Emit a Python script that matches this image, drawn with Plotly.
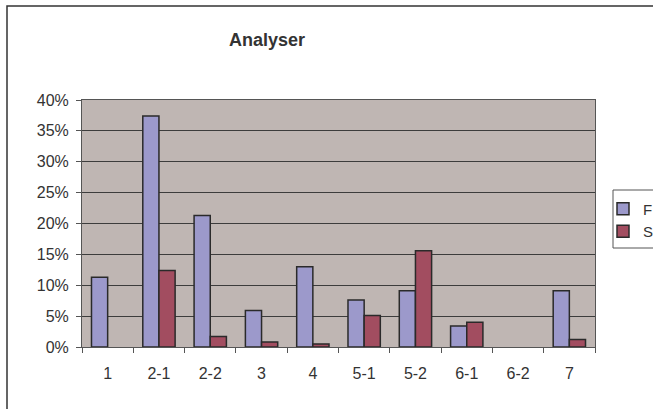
import plotly.graph_objects as go

categories = ["1", "2-1", "2-2", "3", "4", "5-1", "5-2", "6-1", "6-2", "7"]
f_values = [11.3, 37.4, 21.3, 5.9, 13.0, 7.6, 9.1, 3.4, None, 9.1]
s_values = [None, 12.4, 1.7, 0.8, 0.5, 5.1, 15.6, 4.0, None, 1.2]
y_ticks = [0, 5, 10, 15, 20, 25, 30, 35, 40]
y_labels = [f"{v}%" for v in y_ticks]

FONT = "Liberation Sans, Arial, sans-serif"

L, R, T, B = 82, 58, 100, 62
W, H = 653, 409
PW, PH = W - L - R, H - T - B

fig = go.Figure()
fig.add_trace(go.Bar(x=categories, y=f_values, name="F",
                     marker=dict(color="#9c99cb", line=dict(color="#2a2a2a", width=1.5))))
fig.add_trace(go.Bar(x=categories, y=s_values, name="S",
                     marker=dict(color="#a24d60", line=dict(color="#2a2a2a", width=1.5))))

fig.update_layout(
    width=W, height=H,
    margin=dict(l=L, r=R, t=T, b=B, autoexpand=False),
    paper_bgcolor="white",
    plot_bgcolor="#bfb6b3",
    barmode="group", bargap=0.37, bargroupgap=0,
    font=dict(family=FONT, size=16, color="#333333"),
    title=dict(text="<b>Analyser</b>", xref="container", x=267 / W, xanchor="center",
               yref="container", y=1 - 40 / H, yanchor="middle",
               font=dict(family=FONT, size=18, color="#333333")),
    showlegend=True,
    legend=dict(x=(603 - L) / PW, xanchor="left", y=(H - B - 220) / PH, yanchor="middle",
                font=dict(size=15, color="#333333"),
                borderwidth=0, bgcolor="rgba(0,0,0,0)",
                itemwidth=30, tracegroupgap=2),
    xaxis=dict(type="category", tickson="boundaries", ticks="outside", ticklen=5,
               tickcolor="#555555", showline=True, linecolor="#555555", linewidth=1,
               mirror=True, showgrid=False, fixedrange=True, ticklabelstandoff=12),
    yaxis=dict(range=[0, 40], tickvals=y_ticks, ticktext=y_labels, ticks="outside",
               ticklen=5, tickcolor="#555555", showline=True, linecolor="#555555",
               linewidth=1, mirror=True, showgrid=True, gridcolor="#3c3c3c", gridwidth=1,
               zeroline=False, fixedrange=True, ticklabelstandoff=4),
)

# outer chart frame
fig.add_shape(type="rect", xref="paper", yref="paper",
              x0=(7 - L) / PW, x1=(670 - L) / PW,
              y0=(H - B - 420) / PH, y1=(H - B - 6) / PH,
              line=dict(color="#333333", width=1.5), fillcolor="rgba(0,0,0,0)", layer="below")
# legend box
fig.add_shape(type="rect", xref="paper", yref="paper",
              x0=(613 - L) / PW, x1=(670 - L) / PW,
              y0=(H - B - 248) / PH, y1=(H - B - 190) / PH,
              line=dict(color="#555555", width=1), fillcolor="white", layer="below")

fig.write_html("out.html", config={"displayModeBar": False},
               post_script="document.body.style.margin='0';document.body.style.overflow='hidden';")
